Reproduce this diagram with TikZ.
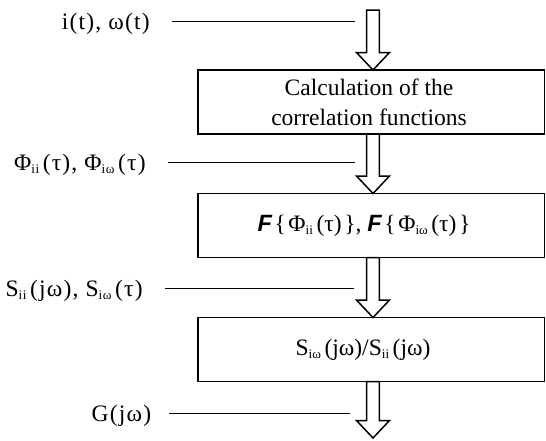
\documentclass[tikz,border=0pt]{standalone}
\usepackage{fontspec}
\setmainfont{Liberation Serif}
\setsansfont{Liberation Sans}
\usetikzlibrary{calc}

% hollow block arrow from #1 (tail) to #2 (tip)
\newcommand{\blockarrow}[2]{%
    \draw[hollow] ($(#1)+(-6.3,0)$) -- ($(#2)+(-6.3,-17.5)$) -- ($(#2)+(-16.5,-17.5)$) -- (#2)
        -- ($(#2)+(16.5,-17.5)$) -- ($(#2)+(6.3,-17.5)$) -- ($(#1)+(6.3,0)$) -- cycle;}
\newcommand{\sub}[1]{\raisebox{-0.3ex}{\fontsize{7.5}{8}\selectfont #1}\kern2pt}
\newcommand{\fourier}{{\sffamily\bfseries\itshape F}\kern1.5pt}
\newcommand{\lbr}{\{\kern1.5pt}
\newcommand{\rbr}{\kern1.5pt\}}

\begin{document}
\begin{tikzpicture}[
        x=0.02cm, y=-0.02cm,
        % Stili per i blocchi
        procbox/.style={rectangle, draw=black, line width=1.1pt, minimum width=6.93cm, minimum height=1.28cm, outer sep=0pt},
        boxtext/.style={font=\fontsize{13.4}{17}\selectfont, align=center, inner sep=0pt},
        % Stili per le etichette e frecce
        sig/.style={font=\fontsize{13.4}{17}\selectfont\addfontfeature{LetterSpace=5}, inner sep=0pt, anchor=east},
        lead/.style={line width=0.6pt, shorten <=12.5pt},
        hollow/.style={line width=0.85pt, line join=miter}
    ]
    \useasboundingbox (0,0) rectangle (546,440);

    % --- BLOCKS ---
    \node[procbox] (corr) at (371.3,102) {};
    \node[boxtext] at (369,102) {Calculation of the\\correlation functions};
    \node[procbox] (fft) at (371.3,225.5) {};
    \node[boxtext] at (364,225.5) {\fourier\lbr Φ\sub{ii}(τ)\rbr, \fourier\lbr Φ\sub{iω}(τ)\rbr};
    \node[procbox] (ratio) at (371.3,349.5) {};
    \node[boxtext] at (363,349.5) {S\sub{iω}(jω)/S\sub{ii}(jω)};

    % --- ARROWS ---
    \coordinate (a0) at (373,10);
    \coordinate (a1) at (a0 |- corr.north);
    \coordinate (b0) at (a0 |- corr.south);
    \coordinate (b1) at (a0 |- fft.north);
    \coordinate (c0) at (a0 |- fft.south);
    \coordinate (c1) at (a0 |- ratio.north);
    \coordinate (d0) at (a0 |- ratio.south);
    \coordinate (d1) at (373,438);
    \blockarrow{a0}{a1}
    \blockarrow{b0}{b1}
    \blockarrow{c0}{c1}
    \blockarrow{d0}{d1}

    % --- SIGNALS ---
    \node[sig] (in) at (150,24) {i(t), ω(t)};
    \node[sig] (phi) at (146,164.5) {Φ\sub{ii}(τ), Φ\sub{iω}(τ)};
    \node[sig] (spec) at (143,290.5) {S\sub{ii}(jω), S\sub{iω}(τ)};
    \node[sig] (resp) at (151.5,415.5) {G(jω)};
    \coordinate (p1) at (354.5,21.5);
    \coordinate (p2) at (354.5,162.6);
    \coordinate (p3) at (354,288.7);
    \coordinate (p4) at (350,413.5);
    \draw[lead] (in.east |- p1) -- (p1);
    \draw[lead] (phi.east |- p2) -- (p2);
    \draw[lead] (spec.east |- p3) -- (p3);
    \draw[lead, shorten <=10pt] (resp.east |- p4) -- (p4);

\end{tikzpicture}
\end{document}
